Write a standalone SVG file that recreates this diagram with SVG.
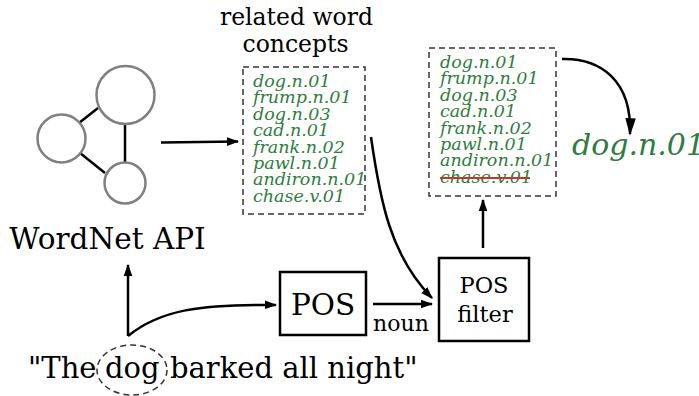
<svg xmlns="http://www.w3.org/2000/svg" width="699" height="396" viewBox="0 0 699 396">
<defs>
<style>
.t{font-family:"DejaVu Serif",serif;fill:#000}
.g{font-family:"DejaVu Serif",serif;font-style:italic;fill:#2e7d3e;font-size:17.5px}
.c{fill:#fff;stroke:#808080;stroke-width:2.5}
.e{stroke:#000;stroke-width:2.5}
.a{fill:none;stroke:#000;stroke-width:2.5}
.box{fill:#fff;stroke:#000;stroke-width:2.5}
.dash{fill:none;stroke:#333;stroke-width:1.5;stroke-dasharray:6,4}
</style>
<marker id="ah" viewBox="0 0 10 10" refX="9" refY="5" markerWidth="5" markerHeight="5" orient="auto" markerUnits="strokeWidth">
<path d="M0,1.5 L10,5 L0,8.5 z" fill="#000"/>
</marker>
<marker id="ahs" viewBox="0 0 10 10" refX="9" refY="5" markerWidth="7" markerHeight="7" orient="auto" markerUnits="strokeWidth">
<path d="M0,2 L10,5 L0,8 z" fill="#000"/>
</marker>
</defs>
<g id="wordnet">
<line class="e" x1="98" y1="108" x2="79" y2="123"/>
<line class="e" x1="125" y1="124" x2="125" y2="163"/>
<line class="e" x1="80" y1="153" x2="105" y2="173"/>
<circle class="c" cx="125.5" cy="95" r="29"/>
<circle class="c" cx="61.5" cy="138.5" r="24"/>
<circle class="c" cx="125" cy="183" r="20.5"/>
<text class="t" x="107.5" y="249" font-size="29.5" text-anchor="middle">WordNet API</text>
</g>
<g id="related">
<text class="t" x="296.5" y="25" font-size="23.5" text-anchor="middle">related word</text>
<text class="t" x="295.5" y="52" font-size="23.5" text-anchor="middle">concepts</text>
<rect class="dash" x="243" y="67" width="122" height="147"/>
<text class="g" x="253" y="87">dog.n.01</text>
<text class="g" x="253" y="103.4">frump.n.01</text>
<text class="g" x="253" y="119.8">dog.n.03</text>
<text class="g" x="253" y="136.2">cad.n.01</text>
<text class="g" x="253" y="152.6">frank.n.02</text>
<text class="g" x="253" y="169">pawl.n.01</text>
<text class="g" x="253" y="185.4">andiron.n.01</text>
<text class="g" x="253" y="201.8">chase.v.01</text>
</g>
<g id="filtered">
<rect class="dash" x="429" y="48" width="127" height="148"/>
<text class="g" x="440" y="68">dog.n.01</text>
<text class="g" x="440" y="84.4">frump.n.01</text>
<text class="g" x="440" y="100.8">dog.n.03</text>
<text class="g" x="440" y="117.2">cad.n.01</text>
<text class="g" x="440" y="133.6">frank.n.02</text>
<text class="g" x="440" y="150">pawl.n.01</text>
<text class="g" x="440" y="166.4">andiron.n.01</text>
<text class="g" x="440" y="182.8">chase.v.01</text>
<line x1="440" y1="178" x2="530" y2="178" stroke="#c0392b" stroke-width="2"/>
</g>
<g id="result">
<text class="g" x="572" y="155" style="font-size:30px">dog.n.01</text>
</g>
<g id="pos">
<rect class="box" x="280" y="272" width="86" height="63"/>
<text class="t" x="323" y="315" font-size="29.5" text-anchor="middle">POS</text>
</g>
<g id="posfilter">
<rect class="box" x="439" y="258" width="90" height="83"/>
<text class="t" x="484" y="293" font-size="22.5" text-anchor="middle">POS</text>
<text class="t" x="485" y="322" font-size="22.5" text-anchor="middle">filter</text>
</g>
<g id="sentence">
<text class="t" y="378" font-size="29"><tspan x="28">"The</tspan><tspan x="105">dog</tspan><tspan x="170">barked all night"</tspan></text>
<ellipse class="dash" cx="132" cy="370" rx="35" ry="25" stroke-width="1.2" stroke-dasharray="5,3"/>
</g>
<g id="connectors">
<line class="a" x1="161" y1="142.5" x2="238" y2="141.5" marker-end="url(#ah)"/>
<path class="a" d="M371,137 C380,200 390,255 432,298" marker-end="url(#ah)"/>
<line class="a" x1="373" y1="304" x2="432" y2="304" marker-end="url(#ah)"/>
<line class="a" x1="483" y1="248" x2="483" y2="200" marker-end="url(#ah)"/>
<path class="a" stroke-width="1.5" d="M562,59 C600,58 632,80 630,134" marker-end="url(#ahs)"/>
<line class="a" x1="128" y1="336" x2="128" y2="265" marker-end="url(#ah)"/>
<path class="a" d="M128,336 C160,310 200,304 276,305" marker-end="url(#ah)"/>
<text class="t" x="401" y="331" font-size="22" text-anchor="middle">noun</text>
</g>
</svg>
